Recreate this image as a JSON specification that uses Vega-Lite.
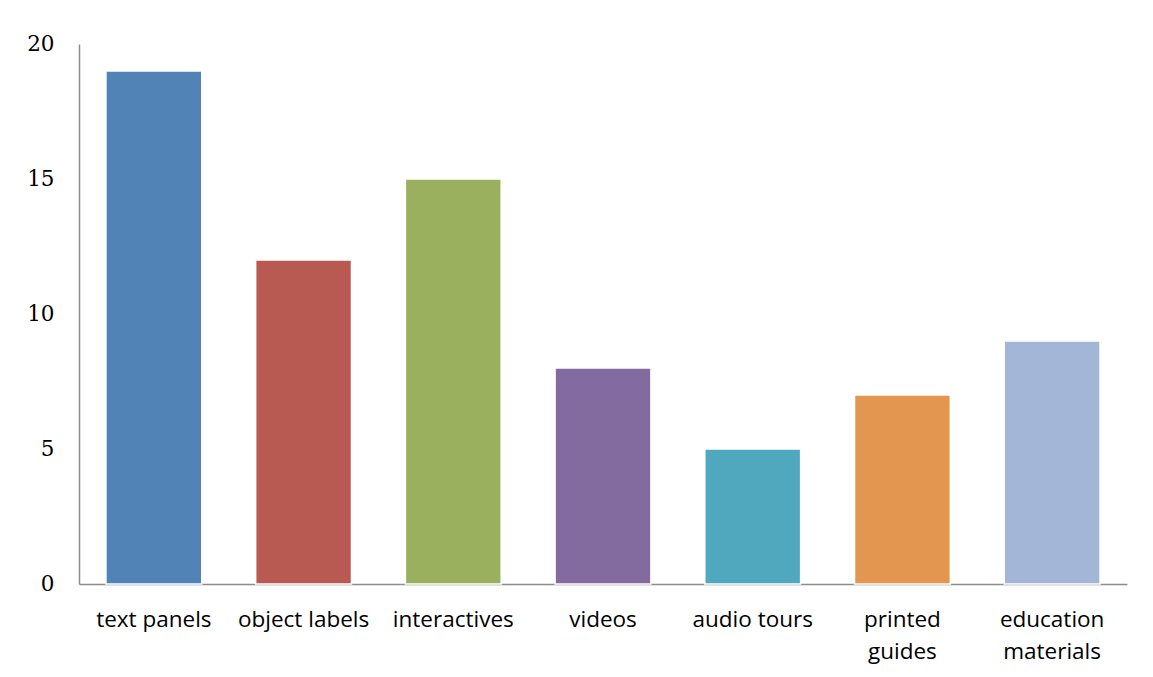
{
  "$schema": "https://vega.github.io/schema/vega-lite/v6.json",
  "autosize": {"type": "none"},
  "width": 1048,
  "height": 540,
  "padding": {"left": 79, "top": 44, "right": 26, "bottom": 93},
  "background": "white",
  "config": {"view": {"stroke": null}},
  "data": {
    "values": [
      {"category": "text panels", "count": 19},
      {"category": "object labels", "count": 12},
      {"category": "interactives", "count": 15},
      {"category": "videos", "count": 8},
      {"category": "audio tours", "count": 5},
      {"category": "printed guides", "count": 7},
      {"category": "education materials", "count": 9}
    ]
  },
  "mark": {"type": "bar", "stroke": "white", "strokeWidth": 1.5},
  "encoding": {
    "x": {
      "field": "category",
      "type": "nominal",
      "sort": null,
      "scale": {"paddingInner": 0.36, "paddingOuter": 0.18},
      "axis": {
        "title": null,
        "labelAngle": 0,
        "ticks": false,
        "domainColor": "#8c8c8c",
        "domainWidth": 1.5,
        "labelFont": "Open Sans",
        "labelFontSize": 22.5,
        "labelColor": "#000000",
        "labelPadding": 24,
        "labelLineHeight": 32,
        "labelBaseline": "top",
        "labelExpr": "datum.value == 'printed guides' || datum.value == 'education materials' ? split(datum.value, ' ') : datum.value"
      }
    },
    "y": {
      "field": "count",
      "type": "quantitative",
      "scale": {"domain": [0, 20], "nice": false},
      "axis": {
        "title": null,
        "values": [0, 5, 10, 15, 20],
        "grid": false,
        "ticks": false,
        "domainColor": "#8c8c8c",
        "domainWidth": 1.5,
        "labelFont": "DejaVu Serif",
        "labelFontSize": 21.5,
        "labelColor": "#000000",
        "labelPadding": 25
      }
    },
    "color": {
      "field": "category",
      "type": "nominal",
      "sort": null,
      "legend": null,
      "scale": {
        "domain": ["text panels", "object labels", "interactives", "videos", "audio tours", "printed guides", "education materials"],
        "range": ["#5283B7", "#B85A52", "#9BB05E", "#836B9F", "#50A8BE", "#E3964F", "#A3B6D8"]
      }
    }
  }
}
